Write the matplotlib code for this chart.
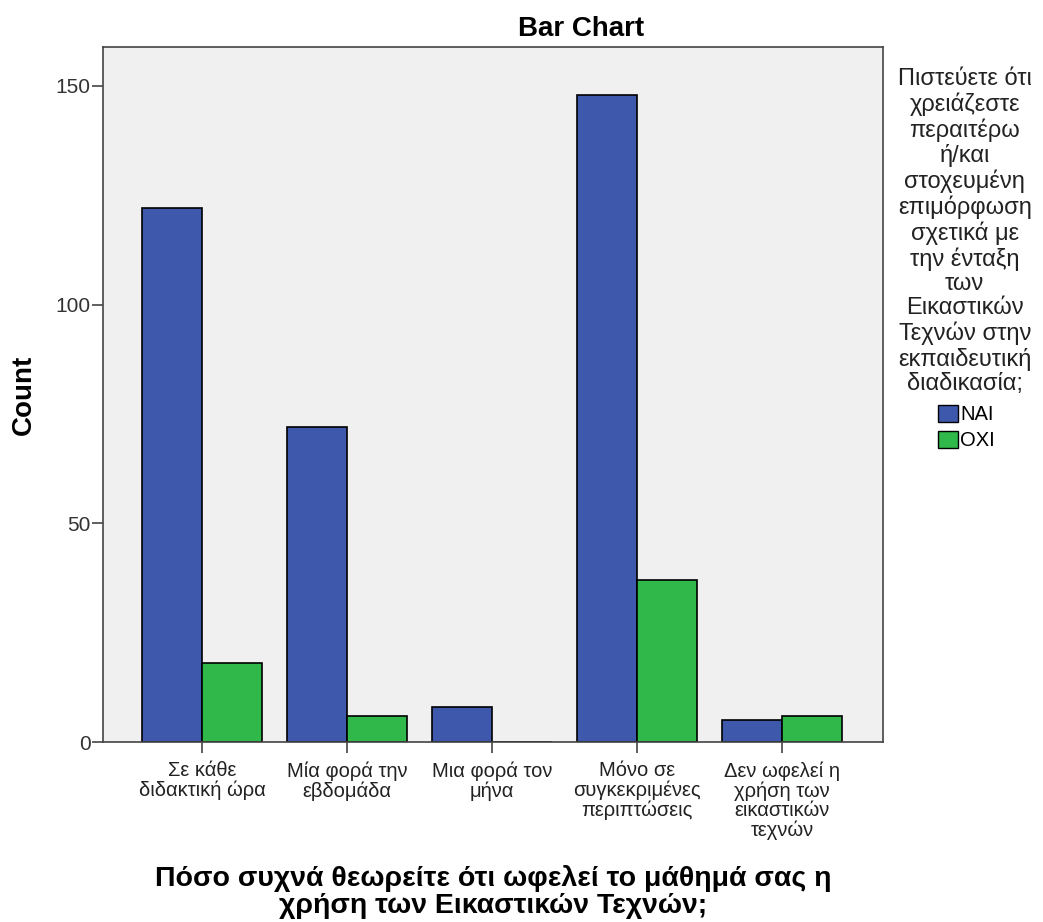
import numpy as np
import matplotlib.pyplot as plt
from matplotlib.patches import Patch

plt.rcParams['font.family'] = ['Liberation Sans', 'DejaVu Sans']

# data
categories = ['Σε κάθε\nδιδακτική ώρα', 'Μία φορά την\nεβδομάδα', 'Μια φορά τον\nμήνα',
              'Μόνο σε\nσυγκεκριμένες\nπεριπτώσεις', 'Δεν ωφελεί η\nχρήση των\nεικαστικών\nτεχνών']
series_names = ['ΝΑΙ', 'ΟΧΙ']
nai_counts = [122, 72, 8, 148, 5]
oxi_counts = [18, 6, 0, 37, 6]
y_ticks = [0, 50, 100, 150]

legend_title = ('Πιστεύετε ότι\nχρειάζεστε\nπεραιτέρω\nή/και\nστοχευμένη\nεπιμόρφωση\n'
                'σχετικά με\nτην ένταξη\nτων\nΕικαστικών\nΤεχνών στην\nεκπαιδευτική\nδιαδικασία;')

blue = '#3e58ac'
green = '#30b84a'
textcol = '#222222'

fig = plt.figure(figsize=(10.43, 9.22), dpi=100)
ax = fig.add_axes([0.0988, 0.1952, 0.7478, 0.7538])
ax.set_facecolor('#f0f0f0')

x = np.arange(len(categories))
w = 0.414
ax.bar(x - w / 2, nai_counts, w, color=blue, edgecolor='black', linewidth=1.2, label=series_names[0])
ax.bar(x + w / 2, oxi_counts, w, color=green, edgecolor='black', linewidth=1.2, label=series_names[1])

ax.set_xlim(-0.683, 4.697)
ax.set_ylim(0, 158.9)
ax.set_yticks(y_ticks)
ax.set_xticks(x)
ax.set_xticklabels(categories, fontsize=14.5, color=textcol, linespacing=1.03)

for s in ax.spines.values():
    s.set_color('#444444')
    s.set_linewidth(1.2)
ax.tick_params(axis='both', direction='out', length=8, width=1.2, color='#444444')
ax.tick_params(axis='y', labelsize=15, labelcolor='#333333', pad=1)
ax.tick_params(axis='x', pad=6)

ax.set_title('Bar Chart', fontsize=20, fontweight='bold', x=0.613, pad=8)
ax.set_ylabel('Count', fontsize=20, fontweight='bold', labelpad=13)
ax.set_xlabel('Πόσο συχνά θεωρείτε ότι ωφελεί το μάθημά σας η\nχρήση των Εικαστικών Τεχνών;',
              fontsize=20.5, fontweight='bold', linespacing=1.06, va='center')
ax.xaxis.set_label_coords(0.5, -0.216)

# legend title as a separate block of centred text
fig.text(0.925, 0.926, legend_title, ha='center', va='top', multialignment='center',
         fontsize=17, color=textcol, linespacing=1.13)
handles = [Patch(facecolor=blue, edgecolor='black', label=series_names[0]),
           Patch(facecolor=green, edgecolor='black', label=series_names[1])]
fig.legend(handles=handles, loc='upper left', bbox_to_anchor=(0.8993, 0.561), frameon=False,
           fontsize=14.5, handlelength=1.0, handleheight=0.95, handletextpad=0.1,
           labelspacing=0.32, borderaxespad=0, borderpad=0)

fig.savefig('out.png', dpi=100)
